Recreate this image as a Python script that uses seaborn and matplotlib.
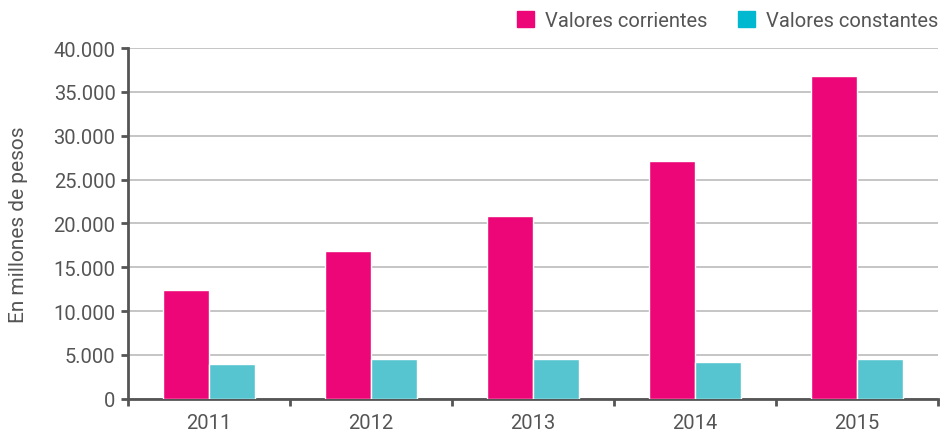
import numpy as np
import pandas as pd
import seaborn as sns
import matplotlib.pyplot as plt
from matplotlib.patches import Patch
from matplotlib.ticker import FuncFormatter, FixedLocator

# datos (millones de pesos)
anios = ["2011", "2012", "2013", "2014", "2015"]
corrientes = [12400, 16800, 20800, 27100, 36800]
constantes = [4000, 4500, 4500, 4150, 4550]
series = ["Valores corrientes", "Valores constantes"]

df = pd.DataFrame({
    "Año": anios * 2,
    "Valor": corrientes + constantes,
    "Serie": [series[0]] * len(anios) + [series[1]] * len(anios),
})

ROSA = "#EC0677"
CIAN = "#56C5CF"
CIAN_LEYENDA = "#00B8CF"
GRIS = "#555555"

sns.set_theme(style="white")
plt.rcParams["font.family"] = ["Roboto", "DejaVu Sans"]

fig = plt.figure(figsize=(9.44, 4.35), dpi=100)
ax = fig.add_axes([0.1356, 0.0811, 0.858, 0.806])

sns.barplot(data=df, x="Año", y="Valor", hue="Serie", palette=[ROSA, CIAN],
            width=0.57, saturation=1, ax=ax, legend=False, zorder=3)

ax.set_ylim(0, 40000)
ax.set_xlim(-0.5, len(anios) - 0.5)
ax.set_yticks(np.arange(0, 40001, 5000))
ax.yaxis.set_major_formatter(FuncFormatter(lambda v, p: f"{int(v):,}".replace(",", ".")))
ax.grid(axis="y", color="#BBBBBB", linewidth=1.2, zorder=0)
ax.set_axisbelow(True)

for s in ["top", "right"]:
    ax.spines[s].set_visible(False)
for s in ["left", "bottom"]:
    ax.spines[s].set_color(GRIS)
    ax.spines[s].set_linewidth(2)

ax.xaxis.set_minor_locator(FixedLocator(np.arange(-0.5, len(anios), 1)))
ax.tick_params(axis="x", which="major", length=0, pad=10, labelsize=14.5, labelcolor=GRIS)
ax.tick_params(axis="x", which="minor", bottom=True, length=5, width=2, color=GRIS)
ax.tick_params(axis="y", left=True, length=5, width=2, color=GRIS, labelsize=14.5,
               labelcolor=GRIS, pad=4)

ax.set_xlabel("")
ax.set_ylabel("En millones de pesos", fontsize=15, color=GRIS)
ax.yaxis.set_label_coords(-0.124, 0.5)

handles = [Patch(color=ROSA, label=series[0]), Patch(color=CIAN_LEYENDA, label=series[1])]
fig.legend(handles=handles, loc="upper right", bbox_to_anchor=(1.013, 1.015), ncol=2,
           frameon=False, fontsize=14.5, labelcolor=GRIS, handlelength=0.85,
           handleheight=0.85, handletextpad=0.55, columnspacing=1.5)

fig.savefig("out.png", dpi=100)
